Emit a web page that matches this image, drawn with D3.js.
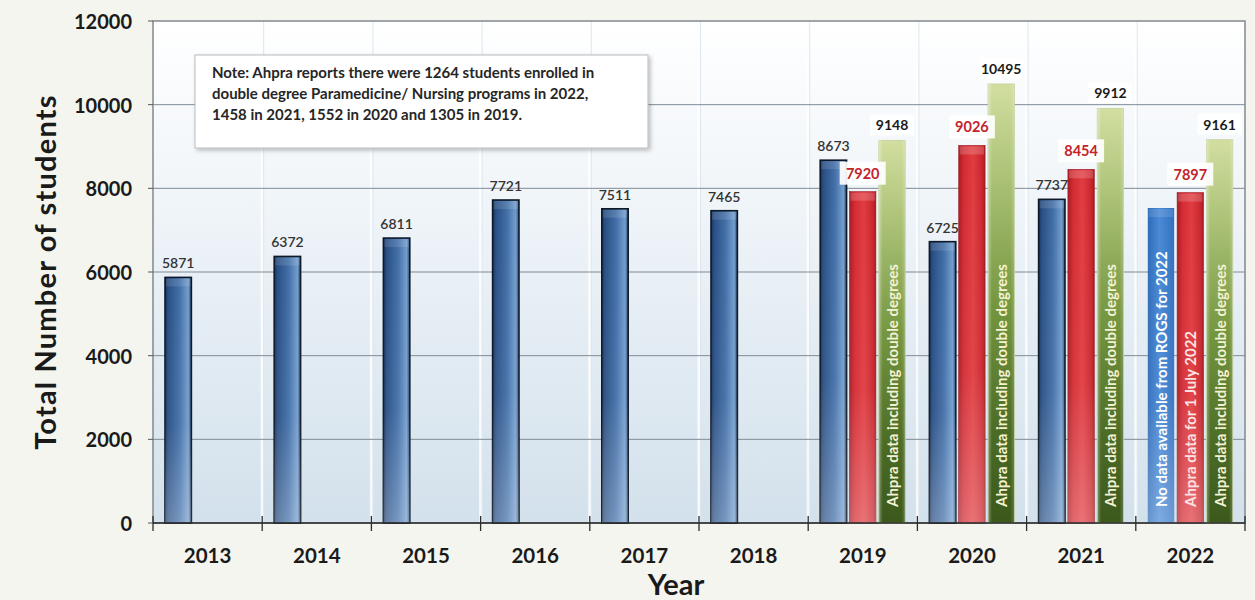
<!DOCTYPE html>
<html>
<head>
<meta charset="utf-8">
<script src="https://cdn.jsdelivr.net/npm/d3@7"></script>
<style>
  html, body { margin: 0; padding: 0; background: #f5f5ef; }
  svg { display: block; font-family: Lato, "Open Sans", sans-serif; }
</style>
</head>
<body>
<svg id="chart" width="1255" height="600"></svg>
<script>
// Student numbers by year
const years = ["2013","2014","2015","2016","2017","2018","2019","2020","2021","2022"];
// ROGS totals (2022 bar is a placeholder with no ROGS figure)
const rogsStudents = [5871, 6372, 6811, 7721, 7511, 7465, 8673, 6725, 7737, 7530];
const rogsLabels   = ["5871","6372","6811","7721","7511","7465","8673","6725","7737",""];
// Ahpra data at 1 July
const ahpraJuly    = [null, null, null, null, null, null, 7920, 9026, 8454, 7897];
// Ahpra data including double degrees
const ahpraDouble  = [null, null, null, null, null, null, 9148, 10495, 9912, 9161];
const yTicks = [0, 2000, 4000, 6000, 8000, 10000, 12000];
const noteLines = [
  "Note: Ahpra reports there were 1264 students enrolled in",
  "double degree Paramedicine/ Nursing programs in 2022,",
  "1458 in 2021, 1552 in 2020 and 1305 in 2019."
];
const insideGreen = "Ahpra data including double degrees";
const insideBlue2022 = "No data available from ROGS for 2022";
const insideRed2022 = "Ahpra data for 1 July 2022";

const svg = d3.select("#chart");
const W = 1255, H = 600;
const plot = { left: 153, right: 1245, top: 21, bottom: 523 };

svg.append("rect").attr("width", W).attr("height", H).attr("fill", "#f5f5ef");

const defs = svg.append("defs");
function grad(id, horizontal, stops) {
  const g = defs.append("linearGradient").attr("id", id)
    .attr("x1", 0).attr("y1", 0)
    .attr("x2", horizontal ? 1 : 0).attr("y2", horizontal ? 0 : 1);
  stops.forEach(([o, c, op]) => g.append("stop").attr("offset", o).attr("stop-color", c)
    .attr("stop-opacity", op == null ? 1 : op));
}
grad("plotBg", false, [[0, "#ffffff"], [0.35, "#f0f5f9"], [1, "#d3e1ec"]]);
grad("blueBar", true, [[0, "#18315a"], [0.12, "#284f84"], [0.55, "#426fa8"], [0.88, "#739dcd"], [1, "#2a4a74"]]);
grad("blueLight", true, [[0, "#2f6bb8"], [0.45, "#4a8ad6"], [1, "#3270c0"]]);
grad("redBar", true, [[0, "#a81b22"], [0.2, "#d42b33"], [0.55, "#e03c40"], [0.9, "#c8252c"], [1, "#9e181e"]]);
grad("greenBar", false, [[0, "#d2dea0"], [0.2, "#aec479"], [0.5, "#769740"], [0.8, "#4b6b25"], [1, "#3c591c"]]);
grad("greenSide", true, [[0, "#ffffff", 0.35], [0.15, "#ffffff", 0.0], [0.85, "#ffffff", 0.0], [1, "#ffffff", 0.2]]);
grad("shine", false, [[0, "#ffffff", 0.0], [0.6, "#ffffff", 0.05], [1, "#ffffff", 0.28]]);
const shadow = defs.append("filter").attr("id", "boxShadow")
  .attr("x", "-5%").attr("y", "-10%").attr("width", "115%").attr("height", "130%");
shadow.append("feDropShadow").attr("dx", 2).attr("dy", 2).attr("stdDeviation", 2)
  .attr("flood-color", "#000").attr("flood-opacity", 0.25);

// Scales
const x0 = d3.scaleBand().domain(years).range([plot.left, plot.right]).padding(0);
const x1 = d3.scaleBand().domain([0, 1, 2]).range([12, 97]).paddingInner(0.1);
const y = d3.scaleLinear().domain([0, 12000]).range([plot.bottom, plot.top]);

// Plot area
svg.append("rect")
  .attr("x", plot.left).attr("y", plot.top)
  .attr("width", plot.right - plot.left).attr("height", plot.bottom - plot.top)
  .attr("fill", "url(#plotBg)");

// Vertical light separators at category boundaries
svg.append("g").selectAll("line")
  .data(years.slice(1))
  .join("line")
  .attr("x1", d => x0(d)).attr("x2", d => x0(d))
  .attr("y1", plot.top).attr("y2", plot.bottom)
  .attr("stroke", "#ffffff").attr("stroke-width", 3).attr("opacity", 0.8);
svg.append("g").selectAll("line")
  .data(years.slice(1))
  .join("line")
  .attr("x1", d => x0(d) + 1.5).attr("x2", d => x0(d) + 1.5)
  .attr("y1", plot.top).attr("y2", plot.bottom)
  .attr("stroke", "#dde6ee").attr("stroke-width", 1);

// Horizontal gridlines
svg.append("g").selectAll("line")
  .data(yTicks.filter(t => t > 0 && t < 12000))
  .join("line")
  .attr("x1", plot.left).attr("x2", plot.right)
  .attr("y1", d => y(d)).attr("y2", d => y(d))
  .attr("stroke", "#7f8b97").attr("stroke-width", 1);

// Plot frame
svg.append("rect")
  .attr("x", plot.left).attr("y", plot.top)
  .attr("width", plot.right - plot.left).attr("height", plot.bottom - plot.top)
  .attr("fill", "none").attr("stroke", "#808890").attr("stroke-width", 1.5);

// Bars
const series = [
  { key: 0, values: rogsStudents },
  { key: 1, values: ahpraJuly },
  { key: 2, values: ahpraDouble }
];
const gBars = svg.append("g");
series.forEach(s => {
  years.forEach((yr, i) => {
    const v = s.values[i];
    if (v == null) return;
    const bx = x0(yr) + x1(s.key);
    const bw = x1.bandwidth();
    const by = y(v);
    const bh = y(0) - y(v);
    let fill, stroke = "none", sw = 0;
    if (s.key === 0) {
      if (yr === "2022") { fill = "url(#blueLight)"; }
      else { fill = "url(#blueBar)"; stroke = "#0d1828"; sw = 1.6; }
    } else if (s.key === 1) { fill = "url(#redBar)"; stroke = "#9a1a1f"; sw = 0.6; }
    else { fill = "url(#greenBar)"; stroke = "#c2d09c"; sw = 0.8; }
    gBars.append("rect")
      .attr("x", bx).attr("y", by).attr("width", bw).attr("height", bh)
      .attr("fill", fill).attr("stroke", stroke).attr("stroke-width", sw);
    if (s.key !== 2) {
      gBars.append("rect")
        .attr("x", bx).attr("y", by).attr("width", bw).attr("height", bh)
        .attr("fill", "url(#shine)");
      gBars.append("rect")
        .attr("x", bx + 1).attr("y", by + 1).attr("width", bw - 2).attr("height", Math.min(8, bh))
        .attr("fill", "#ffffff").attr("opacity", s.key === 1 ? 0.18 : 0.12);
    } else {
      gBars.append("rect")
        .attr("x", bx).attr("y", by).attr("width", bw).attr("height", bh)
        .attr("fill", "url(#greenSide)");
    }
  });
});

// Value labels
const gLab = svg.append("g").attr("text-anchor", "middle");
years.forEach((yr, i) => {
  const cx = k => x0(yr) + x1(k) + x1.bandwidth() / 2;
  if (rogsLabels[i]) {
    gLab.append("text")
      .attr("x", cx(0)).attr("y", y(rogsStudents[i]) - 9)
      .attr("font-size", 14).attr("font-weight", 600).attr("fill", "#333333")
      .text(rogsLabels[i]);
  }
  if (ahpraJuly[i] != null) {
    const ty = y(ahpraJuly[i]) - 13;
    gLab.append("rect").attr("x", cx(1) - 23).attr("y", ty - 17).attr("width", 46).attr("height", 23)
      .attr("fill", "#ffffff").attr("opacity", 0.92);
    gLab.append("text")
      .attr("x", cx(1)).attr("y", ty)
      .attr("font-size", 14.5).attr("font-weight", 700).attr("fill", "#c4232b")
      .text(ahpraJuly[i]);
  }
  if (ahpraDouble[i] != null) {
    const ty = y(ahpraDouble[i]) - 10;
    gLab.append("rect").attr("x", cx(2) - 22).attr("y", ty - 16).attr("width", 44).attr("height", 21)
      .attr("fill", "#ffffff").attr("opacity", 0.88);
    gLab.append("text")
      .attr("x", cx(2)).attr("y", ty)
      .attr("font-size", 14).attr("font-weight", 700).attr("fill", "#1a1a1a")
      .text(ahpraDouble[i]);
  }
});

// Text written up the inside of bars
function insideText(yr, k, txt, color) {
  const cx = x0(yr) + x1(k) + x1.bandwidth() / 2;
  svg.append("text")
    .attr("transform", `translate(${cx},${y(0) - 16}) rotate(-90)`)
    .attr("text-anchor", "start").attr("dominant-baseline", "central")
    .attr("font-size", 15).attr("font-weight", 700).attr("fill", color)
    .text(txt);
}
years.forEach((yr, i) => {
  if (ahpraDouble[i] != null) insideText(yr, 2, insideGreen, "#f4f2d4");
});
insideText("2022", 0, insideBlue2022, "#ffffff");
insideText("2022", 1, insideRed2022, "#fbe3e3");

// X axis baseline with boundary ticks
svg.append("line")
  .attr("x1", plot.left).attr("x2", plot.right)
  .attr("y1", plot.bottom).attr("y2", plot.bottom)
  .attr("stroke", "#2b2b2b").attr("stroke-width", 1.5);
const boundaries = years.map(d => x0(d)).concat([plot.right]);
svg.append("g").selectAll("line")
  .data(boundaries)
  .join("line")
  .attr("x1", d => d).attr("x2", d => d)
  .attr("y1", plot.bottom - 7).attr("y2", plot.bottom + 8)
  .attr("stroke", "#2b2b2b").attr("stroke-width", 1.3);

// Year labels
svg.append("g").selectAll("text")
  .data(years)
  .join("text")
  .attr("x", d => x0(d) + x0.bandwidth() / 2)
  .attr("y", 563)
  .attr("text-anchor", "middle")
  .attr("font-size", 20.5).attr("font-weight", 700).attr("fill", "#1a1a1a")
  .text(d => d);

// Y axis ticks and labels
const yAxis = svg.append("g");
yAxis.selectAll("line")
  .data(yTicks)
  .join("line")
  .attr("x1", plot.left - 5).attr("x2", plot.left)
  .attr("y1", d => y(d)).attr("y2", d => y(d))
  .attr("stroke", "#555").attr("stroke-width", 1);
yAxis.selectAll("text")
  .data(yTicks)
  .join("text")
  .attr("x", 132).attr("y", d => y(d))
  .attr("text-anchor", "end").attr("dominant-baseline", "central")
  .attr("font-size", 20).attr("font-weight", 700).attr("fill", "#1a1a1a")
  .text(d => d);

// Axis titles
svg.append("text")
  .attr("transform", `translate(44,272) rotate(-90)`)
  .attr("text-anchor", "middle").attr("dominant-baseline", "central")
  .attr("font-size", 29).attr("font-weight", 700).attr("fill", "#1a1a1a")
  .attr("letter-spacing", 1.2)
  .text("Total Number of students");
svg.append("text")
  .attr("x", 676).attr("y", 595)
  .attr("text-anchor", "middle")
  .attr("font-size", 29).attr("font-weight", 700).attr("fill", "#1a1a1a")
  .text("Year");

// Note box
const note = svg.append("g");
note.append("rect")
  .attr("x", 195).attr("y", 55).attr("width", 453).attr("height", 93)
  .attr("fill", "#ffffff").attr("stroke", "#b8bcc0").attr("stroke-width", 1)
  .attr("filter", "url(#boxShadow)");
note.selectAll("text")
  .data(noteLines)
  .join("text")
  .attr("x", 212).attr("y", (d, i) => 78 + i * 21)
  .attr("font-size", 15).attr("font-weight", 700).attr("fill", "#262626")
  .text(d => d);
</script>
</body>
</html>
